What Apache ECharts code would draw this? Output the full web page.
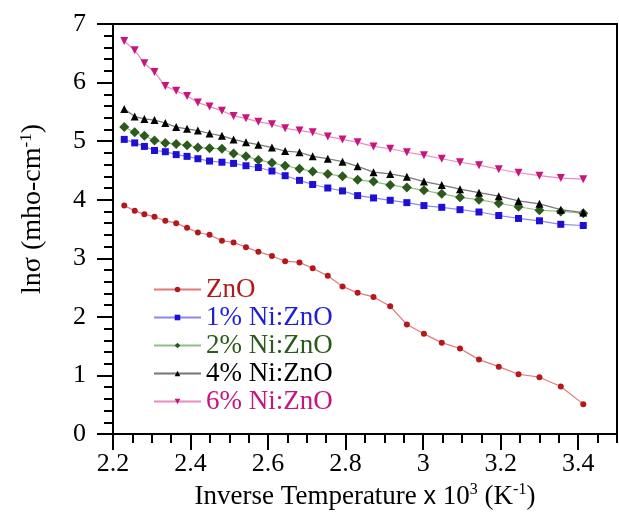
<!DOCTYPE html>
<html>
<head>
<meta charset="utf-8">
<script src="https://cdn.jsdelivr.net/npm/echarts@6/dist/echarts.min.js"></script>
<style>
  html, body { margin: 0; padding: 0; background: #fff; }
  #chart { width: 619px; height: 514px; }
</style>
</head>
<body>
<div id="chart"></div>
<script>
// Inverse temperature (1000/T, K^-1)
const invTemp = [2.229, 2.256, 2.281, 2.307, 2.335, 2.363, 2.391, 2.419, 2.449, 2.481,
  2.511, 2.543, 2.575, 2.610, 2.644, 2.681, 2.715, 2.754, 2.792, 2.831,
  2.872, 2.915, 2.958, 3.002, 3.048, 3.095, 3.144, 3.195, 3.246, 3.300, 3.355, 3.413];

// ln(conductivity) for each sample
const lnZnO = [3.90, 3.81, 3.75, 3.71, 3.64, 3.60, 3.52, 3.44, 3.40, 3.30, 3.27, 3.19, 3.11, 3.04, 2.95, 2.93,
  2.83, 2.70, 2.52, 2.41, 2.34, 2.18, 1.87, 1.71, 1.56, 1.46, 1.27, 1.15, 1.02, 0.97, 0.81, 0.51];
const lnNi1 = [5.03, 4.97, 4.91, 4.84, 4.82, 4.77, 4.74, 4.70, 4.66, 4.64, 4.62, 4.58, 4.55, 4.49, 4.41, 4.33,
  4.26, 4.20, 4.15, 4.07, 4.03, 3.99, 3.95, 3.90, 3.87, 3.83, 3.79, 3.73, 3.68, 3.64, 3.58, 3.56];
const lnNi2 = [5.24, 5.15, 5.09, 5.01, 4.97, 4.95, 4.93, 4.89, 4.88, 4.87, 4.79, 4.74, 4.68, 4.63, 4.58, 4.53,
  4.48, 4.44, 4.40, 4.34, 4.31, 4.25, 4.21, 4.16, 4.10, 4.04, 4.00, 3.94, 3.88, 3.82, 3.80, 3.77];
const lnNi4 = [5.55, 5.42, 5.38, 5.36, 5.31, 5.24, 5.21, 5.18, 5.13, 5.09, 5.03, 4.98, 4.94, 4.89, 4.83, 4.81,
  4.74, 4.70, 4.65, 4.57, 4.47, 4.44, 4.39, 4.31, 4.25, 4.18, 4.12, 4.06, 3.98, 3.93, 3.83, 3.78];
const lnNi6 = [6.71, 6.55, 6.33, 6.18, 5.94, 5.86, 5.77, 5.66, 5.59, 5.52, 5.43, 5.39, 5.33, 5.29, 5.22, 5.18,
  5.15, 5.08, 5.03, 4.98, 4.91, 4.87, 4.81, 4.76, 4.70, 4.64, 4.59, 4.52, 4.46, 4.41, 4.37, 4.35];

const seriesNames = ['ZnO', '1% Ni:ZnO', '2% Ni:ZnO', '4% Ni:ZnO', '6% Ni:ZnO'];
const seriesValues = [lnZnO, lnNi1, lnNi2, lnNi4, lnNi6];

// marker look per sample
const looks = [
  { mark: '#b3191c', line: '#e07a7c', text: '#b3191c', symbol: 'circle',   size: 6, rotate: 0 },
  { mark: '#1f0fd6', line: '#8c86f2', text: '#1f1fd6', symbol: 'rect',     size: 7, rotate: 0 },
  { mark: '#2b5a1c', line: '#93bf86', text: '#2b5a1c', symbol: 'diamond',  size: 10, rotate: 0 },
  { mark: '#000000', line: '#777777', text: '#000000', symbol: 'triangle', size: 8, rotate: 0 },
  { mark: '#c8157e', line: '#ea8cc2', text: '#c8157e', symbol: 'triangle', size: 8, rotate: 180 }
];

const serif = 'Liberation Serif';

const series = seriesNames.map((name, i) => ({
  name: name,
  type: 'line',
  data: invTemp.map((x, j) => [x, seriesValues[i][j]]),
  symbol: looks[i].symbol,
  symbolSize: looks[i].size,
  symbolRotate: looks[i].rotate,
  showAllSymbol: true,
  itemStyle: { color: looks[i].mark },
  lineStyle: { color: looks[i].line, width: 1.2 },
  z: 2 + i
}));

const chart = echarts.init(document.getElementById('chart'), null, { renderer: 'canvas' });

chart.setOption({
  animation: false,
  backgroundColor: '#ffffff',
  grid: {
    left: 113, right: 2, top: 24, bottom: 80,
    show: true, borderColor: '#000', borderWidth: 2, backgroundColor: 'transparent'
  },
  xAxis: [
    {
      type: 'value', min: 2.2, max: 3.5, interval: 0.2,
      axisLine: { show: true, lineStyle: { color: '#000', width: 2 } },
      axisTick: { show: true, inside: false, length: 16, lineStyle: { color: '#000', width: 2 } },
      axisLabel: {
        show: true, margin: 17, showMaxLabel: false,
        fontFamily: serif, fontSize: 26, color: '#000',
        formatter: v => String(Math.round(v * 10) / 10)
      },
      splitLine: { show: false }
    },
    {
      type: 'value', min: 2.2, max: 3.5, interval: 0.05, position: 'bottom',
      axisLine: { show: false },
      axisTick: { show: true, inside: false, length: 9, lineStyle: { color: '#000', width: 2 } },
      axisLabel: { show: false },
      splitLine: { show: false }
    }
  ],
  yAxis: {
    type: 'value', min: 0, max: 7, interval: 1,
    axisLine: { show: true, lineStyle: { color: '#000', width: 2 } },
    axisTick: { show: true, inside: false, length: 16, lineStyle: { color: '#000', width: 2 } },
    minorTick: { show: true, splitNumber: 5, length: 9, lineStyle: { color: '#000', width: 2 } },
    axisLabel: { margin: 27, fontFamily: serif, fontSize: 26, color: '#000' },
    splitLine: { show: false }
  },
  legend: {
    orient: 'vertical',
    left: 153, top: 276,
    itemWidth: 47, itemHeight: 7, itemGap: 1,
    padding: 0,
    textStyle: { fontFamily: serif, fontSize: 27, lineHeight: 27 },
    data: seriesNames.map((n, i) => ({ name: n, textStyle: { color: looks[i].text } }))
  },
  graphic: [
    {
      type: 'text', x: 365, y: 497,
      style: {
        text: 'Inverse Temperature {sans|x} 10{sup|3} (K{sup|-1})',
        align: 'center', verticalAlign: 'middle',
        fontFamily: serif, fontSize: 27, fill: '#000',
        rich: {
          sans: { fontFamily: 'Liberation Sans', fontSize: 25, lineHeight: 30 },
          sup: { fontFamily: serif, fontSize: 16, verticalAlign: 'top', lineHeight: 16 }
        },
        lineHeight: 30
      }
    },
    {
      type: 'text', x: 33, y: 209, rotation: Math.PI / 2,
      style: {
        text: 'lnσ (mho-cm{sup|-1})',
        align: 'center', verticalAlign: 'middle',
        fontFamily: serif, fontSize: 28, fill: '#000',
        rich: {
          sup: { fontFamily: serif, fontSize: 17, verticalAlign: 'top', lineHeight: 17 }
        },
        lineHeight: 30
      }
    }
  ],
  series: series
});
</script>
</body>
</html>
